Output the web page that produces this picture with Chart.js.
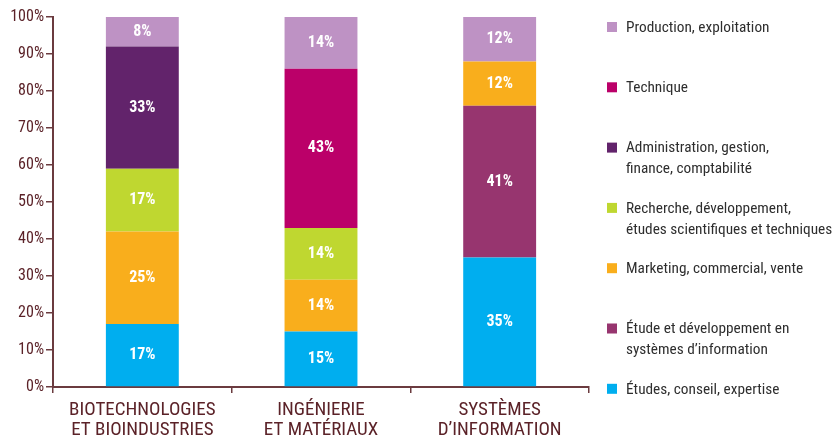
<!DOCTYPE html>
<html><head><meta charset="utf-8">
<script src="https://cdn.jsdelivr.net/npm/chart.js@4.4.1/dist/chart.umd.min.js"></script>
<style>html,body{margin:0;padding:0;background:#fff}#wrap{position:relative;width:837px;height:439px}</style>
</head><body><div id="wrap"><canvas id="c" width="837" height="439"></canvas></div>
<script>
const categories = [["BIOTECHNOLOGIES","ET BIOINDUSTRIES"],["INGÉNIERIE","ET MATÉRIAUX"],["SYSTÈMES","D’INFORMATION"]];
const yTicks = [0,10,20,30,40,50,60,70,80,90,100];
// series, bottom of stack first
const etudesConseil = [17, 15, 35];
const etudeSI       = [0, 0, 41];
const marketing     = [25, 14, 12];
const recherche     = [17, 14, 0];
const administration= [33, 0, 0];
const technique     = [0, 43, 0];
const production    = [8, 14, 12];

const seriesNames = [
  "Études, conseil, expertise",
  "Étude et développement en systèmes d’information",
  "Marketing, commercial, vente",
  "Recherche, développement, études scientifiques et techniques",
  "Administration, gestion, finance, comptabilité",
  "Technique",
  "Production, exploitation"
];
const legendLines = {
  "Production, exploitation":["Production, exploitation"],
  "Technique":["Technique"],
  "Administration, gestion, finance, comptabilité":["Administration, gestion,","finance, comptabilité"],
  "Recherche, développement, études scientifiques et techniques":["Recherche, développement,","études scientifiques et techniques"],
  "Marketing, commercial, vente":["Marketing, commercial, vente"],
  "Étude et développement en systèmes d’information":["Étude et développement en","systèmes d’information"],
  "Études, conseil, expertise":["Études, conseil, expertise"]
};
const legendOrder = [6,5,4,3,2,1,0];
const colors = ["#00aeef","#97356f","#f9ae1c","#bfd730","#62236b","#bb0069","#be92c4"];
const seriesData = [etudesConseil, etudeSI, marketing, recherche, administration, technique, production];

const FONT = "'Liberation Sans Narrow','Arial Narrow','Roboto Condensed',sans-serif";
const AXIS = "#6b3b3f";
const TXT = "#5b2228";

const labelPlugin = {
  id:'segLabels',
  afterDatasetsDraw(chart){
    const ctx = chart.ctx;
    ctx.save();
    ctx.font = "bold 16px " + FONT;
    ctx.fillStyle = "#fff";
    ctx.textAlign = "center";
    ctx.textBaseline = "middle";
    chart.data.datasets.forEach((ds,i)=>{
      const meta = chart.getDatasetMeta(i);
      meta.data.forEach((el,j)=>{
        const v = ds.data[j];
        if(!v) return;
        const p = el.getProps(['x','y','base'],true);
        ctx.fillText(v+"%", p.x, (p.y+p.base)/2);
      });
    });
    ctx.restore();
  }
};
const legendPlugin = {
  id:'sideLegend',
  afterDraw(chart){
    const ctx = chart.ctx;
    ctx.save();
    ctx.font = "15.3px " + FONT;
    ctx.textBaseline = "middle";
    const startY = 27, step = 60.3;
    legendOrder.forEach((idx,k)=>{
      const y = startY + k*step;
      ctx.fillStyle = colors[idx];
      ctx.fillRect(607, y-5, 10, 10);
      ctx.fillStyle = "#2e2e2e";
      legendLines[seriesNames[idx]].forEach((ln,m)=>{
        ctx.fillText(ln, 626, y + 1 + m*21);
      });
    });
    ctx.restore();
  }
};

new Chart(document.getElementById('c'),{
  type:'bar',
  data:{
    labels: categories,
    datasets: seriesData.map((d,i)=>({label:seriesNames[i],data:d,backgroundColor:colors[i],borderWidth:0,categoryPercentage:1,barPercentage:0.408}))
  },
  options:{
    responsive:false,animation:false,
    layout:{padding:{left:0,right:248,top:17,bottom:0}},
    plugins:{legend:{display:false},tooltip:{enabled:false}},
    scales:{
      x:{stacked:true,
        grid:{display:true,drawOnChartArea:false,drawTicks:true,tickLength:6,color:AXIS,lineWidth:1.5,offset:true},
        border:{display:true,color:AXIS,width:2},
        ticks:{color:TXT,font:{family:FONT,size:19,lineHeight:1.05},padding:7,maxRotation:0,autoSkip:false},
        afterFit(s){s.height=52;}
      },
      y:{stacked:true,min:0,max:100,
        afterBuildTicks(s){s.ticks=yTicks.map(v=>({value:v}));},
        grid:{display:true,drawOnChartArea:false,drawTicks:true,tickLength:7,color:AXIS,lineWidth:1.5},
        border:{display:true,color:AXIS,width:2},
        ticks:{color:TXT,font:{family:FONT,size:16},padding:2,callback:v=>v+"%"},
        afterFit(s){s.width=53;}
      }
    }
  },
  plugins:[labelPlugin,legendPlugin]
});
</script></body></html>
